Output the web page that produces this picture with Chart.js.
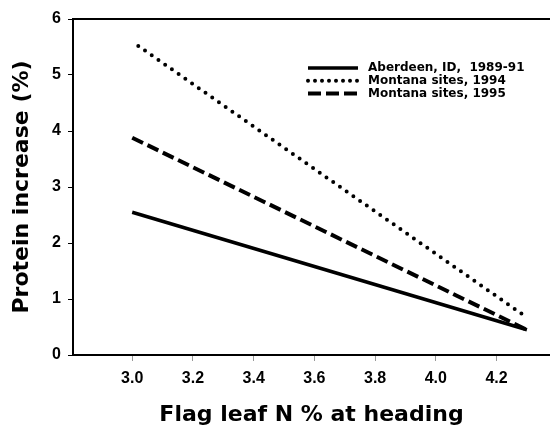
<!DOCTYPE html>
<html>
<head>
<meta charset="utf-8">
<script src="https://cdn.jsdelivr.net/npm/chart.js@4"></script>
<style>
  body { margin: 0; background: #fff; }
  #wrap { width: 550px; height: 430px; position: relative; }
</style>
</head>
<body>
<div id="wrap"><canvas id="chart"></canvas></div>
<script>
// Data
const seriesLabels = ["Aberdeen, ID,  1989-91", "Montana sites, 1994", "Montana sites, 1995"];
const xAberdeen = [3.0, 4.3];
const yAberdeen = [2.55, 0.45];
const xMontana94 = [3.02, 4.3];
const yMontana94 = [5.52, 0.67];
const xMontana95 = [3.0, 4.3];
const yMontana95 = [3.88, 0.45];
const xTicks = [3.0, 3.2, 3.4, 3.6, 3.8, 4.0, 4.2];
const yTicks = [0, 1, 2, 3, 4, 5, 6];

const toPoints = (xs, ys) => xs.map((x, i) => ({ x: x, y: ys[i] }));

const tickFont = { family: "'Liberation Sans', Arial, sans-serif", weight: "bold", size: 16 };
const titleFont = { family: "'DejaVu Sans', sans-serif", weight: "bold", size: 22 };

// top frame line (the box has no right side in the original)
const topFrame = {
    id: "topFrame",
    afterDraw(chart) {
        const ctx = chart.ctx;
        const area = chart.chartArea;
        ctx.save();
        ctx.strokeStyle = "#000";
        ctx.lineWidth = 2;
        ctx.beginPath();
        ctx.moveTo(area.left - 1, area.top);
        ctx.lineTo(area.right, area.top);
        ctx.stroke();
        ctx.restore();
    }
};

// legend drawn inside the plot, upper right
const insideLegend = {
    id: "insideLegend",
    afterDatasetsDraw(chart) {
        const ctx = chart.ctx;
        const area = chart.chartArea;
        const x0 = area.left + 235;
        const y0 = area.top + 49;
        ctx.save();
        chart.data.datasets.forEach((ds, i) => {
            const y = y0 + i * 12.8;
            ctx.beginPath();
            ctx.strokeStyle = ds.borderColor;
            ctx.lineWidth = ds.borderWidth;
            ctx.lineCap = ds.borderCapStyle || "butt";
            ctx.setLineDash(ds.legendDash || []);
            ctx.moveTo(x0, y);
            ctx.lineTo(x0 + 50, y);
            ctx.stroke();
            ctx.setLineDash([]);
            ctx.fillStyle = "#000";
            ctx.font = "bold 12px 'DejaVu Sans', sans-serif";
            ctx.textBaseline = "middle";
            ctx.textAlign = "left";
            ctx.fillText(ds.label, x0 + 60, y);
        });
        ctx.restore();
    }
};

new Chart(document.getElementById("chart"), {
    type: "scatter",
    data: {
        datasets: [
            {
                label: seriesLabels[0],
                data: toPoints(xAberdeen, yAberdeen),
                showLine: true,
                borderColor: "#000",
                borderWidth: 3.5,
                pointRadius: 0,
                legendDash: []
            },
            {
                label: seriesLabels[1],
                data: toPoints(xMontana94, yMontana94),
                showLine: true,
                borderColor: "#000",
                borderWidth: 4,
                borderDash: [0, 8.2],
                borderCapStyle: "round",
                pointRadius: 0,
                legendDash: [0, 7]
            },
            {
                label: seriesLabels[2],
                data: toPoints(xMontana95, yMontana95),
                showLine: true,
                borderColor: "#000",
                borderWidth: 4,
                borderDash: [12, 5],
                pointRadius: 0,
                legendDash: [13, 5]
            }
        ]
    },
    options: {
        responsive: true,
        maintainAspectRatio: false,
        devicePixelRatio: 1,
        animation: false,
        layout: { padding: { top: 19, right: 0, left: 0, bottom: 0 } },
        plugins: {
            legend: { display: false },
            tooltip: { enabled: false }
        },
        scales: {
            x: {
                type: "linear",
                position: "bottom",
                min: 2.805,
                max: 4.376,
                afterBuildTicks: (scale) => { scale.ticks = xTicks.map(v => ({ value: v })); },
                afterFit: (scale) => { scale.height = 75; },
                ticks: {
                    font: tickFont,
                    color: "#000",
                    padding: 8,
                    callback: (v) => v.toFixed(1)
                },
                grid: { drawOnChartArea: false, tickLength: 6, color: "#999", lineWidth: 1 },
                border: { display: true, color: "#000", width: 2 },
                title: {
                    display: true,
                    text: "Flag leaf N % at heading",
                    font: titleFont,
                    color: "#000",
                    padding: { top: 0, bottom: 2 }
                }
            },
            y: {
                min: 0,
                max: 6,
                afterBuildTicks: (scale) => { scale.ticks = yTicks.map(v => ({ value: v })); },
                afterFit: (scale) => { scale.width = 73; },
                ticks: {
                    font: tickFont,
                    color: "#000",
                    padding: 7
                },
                grid: { drawOnChartArea: false, tickLength: 5, color: "#000", lineWidth: 1 },
                border: { display: true, color: "#000", width: 2 },
                title: {
                    display: true,
                    text: "Protein increase (%)",
                    font: titleFont,
                    color: "#000",
                    padding: { top: 9, bottom: 0 }
                }
            }
        }
    },
    plugins: [insideLegend, topFrame]
});
</script>
</body>
</html>
